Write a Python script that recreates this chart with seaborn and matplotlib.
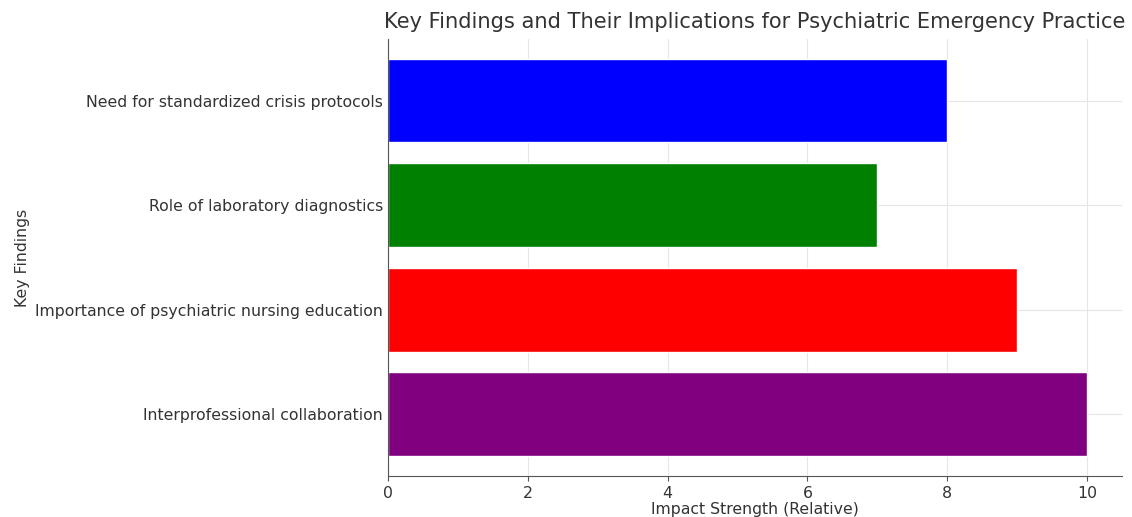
import matplotlib
matplotlib.use("Agg")
import matplotlib.pyplot as plt
import seaborn as sns
import pandas as pd

findings = [
    "Need for standardized crisis protocols",
    "Role of laboratory diagnostics",
    "Importance of psychiatric nursing education",
    "Interprofessional collaboration",
]
impact = [8, 7, 9, 10]
bar_colors = ["blue", "green", "red", "purple"]

df = pd.DataFrame({"Finding": findings, "Impact": impact})

sns.set_style("whitegrid", {
    "grid.color": "#e6e6e6",
    "axes.edgecolor": "#555555",
    "xtick.bottom": True,
})
plt.rcParams["font.family"] = ["DejaVu Sans"]
plt.rcParams["text.color"] = "#333333"
plt.rcParams["axes.labelcolor"] = "#333333"
plt.rcParams["xtick.color"] = "#333333"
plt.rcParams["ytick.color"] = "#333333"

fig = plt.figure(figsize=(11.32, 5.17), dpi=100)
ax = fig.add_axes([0.3428, 0.0793, 0.6484, 0.8453])

sns.barplot(data=df, x="Impact", y="Finding", hue="Finding", order=findings,
            palette=bar_colors, width=0.8, saturation=1, legend=False, ax=ax)

ax.set_xlim(0, 10.5)
ax.set_ylim(3.59, -0.59)
ax.set_xticks([0, 2, 4, 6, 8, 10])
ax.tick_params(axis="x", labelsize=11.3, length=3.5, width=0.8, color="#555555")
ax.tick_params(axis="y", labelsize=11.3, length=0)
ax.set_xlabel("Impact Strength (Relative)", fontsize=11.3, labelpad=1)
ax.set_ylabel("Key Findings", fontsize=11.3)
ax.set_title("Key Findings and Their Implications for Psychiatric Emergency Practice",
             fontsize=15.1, pad=8)
ax.grid(True, axis="both", color="#e6e6e6", linewidth=0.8)
ax.set_axisbelow(True)
sns.despine(ax=ax)

fig.savefig("out.png", dpi=100)
